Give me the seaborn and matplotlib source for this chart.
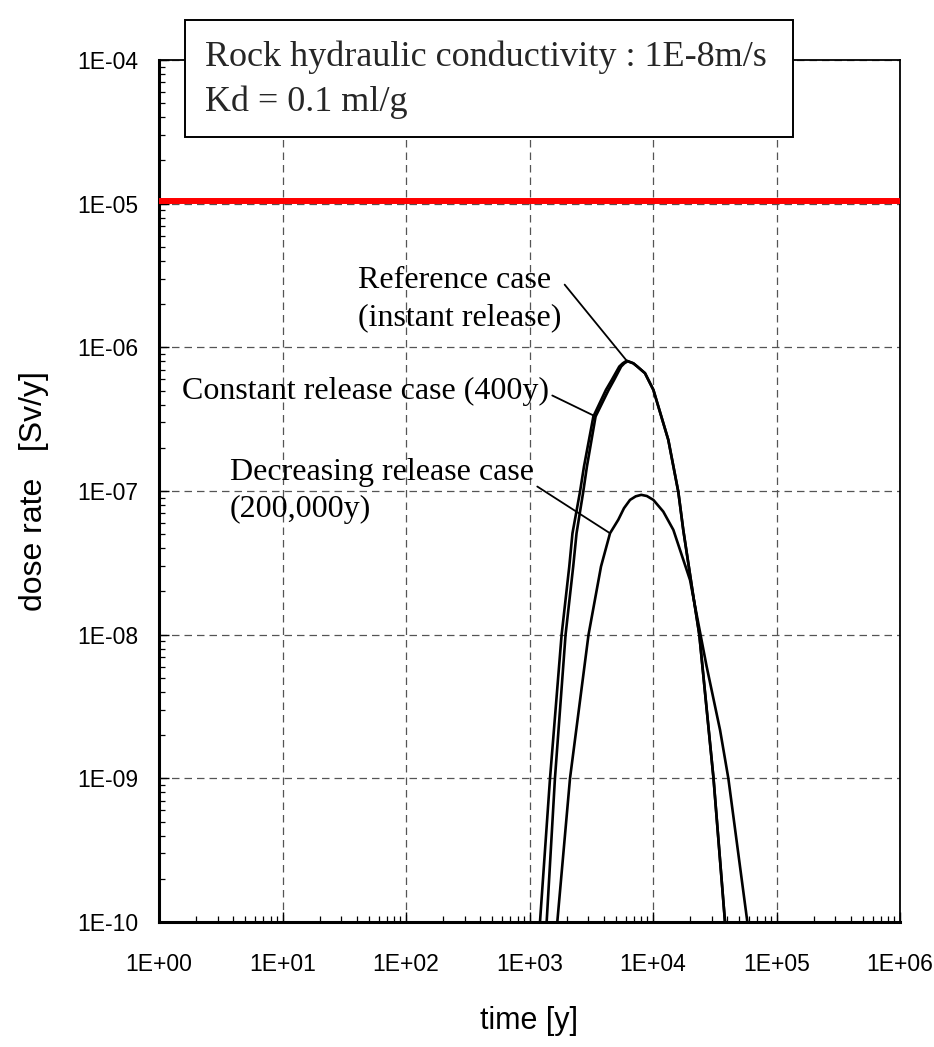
import numpy as np
import pandas as pd
import matplotlib
matplotlib.use("Agg")
import matplotlib.pyplot as plt
import seaborn as sns
from matplotlib import font_manager
from matplotlib.patches import Rectangle
from matplotlib.ticker import FuncFormatter, LogLocator, NullFormatter

# ---------------- data ----------------
ref_t = [1216, 1466, 1820, 2099, 2228, 2564, 2761, 3289, 4159, 4634, 5333, 5689, 6124,
         6934, 7464, 8610, 10070, 13300, 16030, 17580, 21230, 23710, 30900, 38280]
ref_d = [1e-10, 1e-9, 1e-8, 2.98e-8, 5.08e-8, 9.86e-8, 1.48e-7, 3.30e-7, 5.06e-7, 5.93e-7,
         7.35e-7, 7.74e-7, 8.07e-7,
         7.74e-7, 7.35e-7, 6.61e-7, 5.06e-7, 2.27e-7, 9.86e-8, 5.36e-8, 1.84e-8, 1e-8, 1e-9, 1e-10]

con_t = [1377, 1607, 1959, 2259, 2404, 2723, 2917, 3428, 4375, 4842, 5521, 5861, 6237,
         6934, 7464, 8610, 10070, 13300, 16030, 17580, 21230, 23710, 30900, 38280]
con_d = [1e-10, 1e-9, 1e-8, 2.98e-8, 5.08e-8, 9.86e-8, 1.48e-7, 3.30e-7, 5.06e-7, 5.93e-7,
         7.35e-7, 7.74e-7, 8.00e-7,
         7.74e-7, 7.35e-7, 6.61e-7, 5.06e-7, 2.27e-7, 9.86e-8, 5.36e-8, 1.84e-8, 1e-8, 1e-9, 1e-10]

dec_t = [1679, 2128, 3006, 3793, 4487, 5236, 5821, 6516, 7244, 8035, 8913, 10070, 12110,
         14620, 19950, 23280, 27160, 34910, 40740, 58080]
dec_d = [1e-10, 1e-9, 1e-8, 2.98e-8, 5.08e-8, 6.31e-8, 7.59e-8, 8.67e-8, 9.18e-8, 9.40e-8,
         9.23e-8, 8.67e-8, 7.19e-8, 5.36e-8, 2.40e-8, 1.20e-8, 6.03e-9, 2.17e-9, 1e-9, 1e-10]

limit_t = [1, 1e6]
limit_d = [1.04e-5, 1.04e-5]

x_ticks = [1e0, 1e1, 1e2, 1e3, 1e4, 1e5, 1e6]
y_ticks = [1e-10, 1e-9, 1e-8, 1e-7, 1e-6, 1e-5, 1e-4]

box_lines = ["Rock hydraulic conductivity : 1E-8m/s", "Kd = 0.1 ml/g"]
lbl_ref = "Reference case\n(instant release)"
lbl_con = "Constant release case (400y)"
lbl_dec = "Decreasing release case\n(200,000y)"

# ---------------- fonts ----------------
def have(name):
    try:
        font_manager.findfont(font_manager.FontProperties(family=name), fallback_to_default=False)
        return True
    except Exception:
        return False

SANS = "Liberation Sans" if have("Liberation Sans") else "DejaVu Sans"
SERIF = "Liberation Serif" if have("Liberation Serif") else "DejaVu Serif"

sns.set_theme(style="white")
plt.rcParams["font.family"] = [SANS, "DejaVu Sans"]

W, H = 934, 1047
DPI = 100
fig = plt.figure(figsize=(W / DPI, H / DPI), dpi=DPI)
L, R, T, B = 159, 900, 60, 922
ax = fig.add_axes([L / W, 1 - B / H, (R - L) / W, (B - T) / H])
ax.set_xscale("log")
ax.set_yscale("log")

# grid
ax.grid(True, which="major", color="#555555", linestyle=(0, (6, 4)), linewidth=0.9)
ax.set_axisbelow(True)

# limit line
sns.lineplot(x=limit_t, y=limit_d, ax=ax, color="#ff0000", linewidth=4.3, zorder=3)

df = pd.concat([
    pd.DataFrame({"t": ref_t, "d": ref_d, "case": "ref"}),
    pd.DataFrame({"t": con_t, "d": con_d, "case": "con"}),
    pd.DataFrame({"t": dec_t, "d": dec_d, "case": "dec"}),
])
for case, g in df.groupby("case", sort=False):
    sns.lineplot(data=g, x="t", y="d", ax=ax, color="black", linewidth=1.9,
                 sort=False, estimator=None, zorder=4, legend=False)

ax.set_xlim(1, 1e6)
ax.set_ylim(1e-10, 1e-4)

# ticks
ax.set_xticks(x_ticks)
ax.set_yticks(y_ticks)
ax.xaxis.set_minor_locator(LogLocator(base=10, subs=np.arange(2, 10)))
ax.yaxis.set_minor_locator(LogLocator(base=10, subs=np.arange(2, 10)))
ax.xaxis.set_minor_formatter(NullFormatter())
ax.yaxis.set_minor_formatter(NullFormatter())
fmt = FuncFormatter(lambda v, p: "1E%+03d" % int(round(np.log10(v))))
ax.xaxis.set_major_formatter(fmt)
ax.yaxis.set_major_formatter(fmt)
ax.tick_params(axis="both", which="major", direction="in", length=7, width=1.0,
               color="black", bottom=True, left=True, top=False, right=False,
               labelsize=16.5, labelcolor="black")
ax.tick_params(axis="both", which="minor", direction="in", length=4, width=0.9,
               color="black", bottom=True, left=True, top=False, right=False)
ax.tick_params(axis="x", which="major", pad=22)
ax.tick_params(axis="y", which="major", pad=15)

for side in ["left", "bottom"]:
    ax.spines[side].set_linewidth(2.2)
    ax.spines[side].set_color("black")
for side in ["top", "right"]:
    ax.spines[side].set_linewidth(1.3)
    ax.spines[side].set_color("black")

ax.set_xlabel("time [y]", fontsize=22, family=[SANS], labelpad=22, color="black")
ax.set_ylabel("dose rate   [Sv/y]", fontsize=23, family=[SANS], labelpad=20, color="black")

# annotations
def axfrac(px, py):
    return ((px - L) / (R - L), (B - py) / (B - T))

tkw = dict(fontsize=23, family=[SERIF], color="black", ha="left", va="center",
           textcoords="axes fraction", linespacing=1.35, zorder=6)
ax.annotate(lbl_ref, xy=(ref_t[12], ref_d[12]), xytext=axfrac(358, 299),
            arrowprops=dict(arrowstyle="-", color="black", lw=1.3, shrinkA=0, shrinkB=0,
                            relpos=(1.0, 0.78)), **tkw)
ax.annotate(lbl_con, xy=(con_t[7], con_d[7]), xytext=axfrac(182, 391),
            arrowprops=dict(arrowstyle="-", color="black", lw=1.3, shrinkA=0, shrinkB=0,
                            relpos=(1.0, 0.4)), **tkw)
ax.annotate(lbl_dec, xy=(dec_t[4], dec_d[4]), xytext=axfrac(230, 491),
            arrowprops=dict(arrowstyle="-", color="black", lw=1.3, shrinkA=0, shrinkB=0,
                            relpos=(1.0, 0.6)), **tkw)

# title box
bx0, by0, bx1, by1 = 185, 20, 793, 137
rect = Rectangle((bx0 / W, 1 - by1 / H), (bx1 - bx0) / W, (by1 - by0) / H,
                 transform=fig.transFigure, facecolor="white", edgecolor="black",
                 linewidth=1.4, zorder=10)
fig.patches.append(rect)
fig.text(205 / W, 1 - 57 / H, box_lines[0], fontsize=26, family=[SERIF],
         ha="left", va="center", zorder=11)
fig.text(205 / W, 1 - 102 / H, box_lines[1], fontsize=26, family=[SERIF],
         ha="left", va="center", zorder=11)

fig.savefig("out.png", dpi=DPI, facecolor="white")
